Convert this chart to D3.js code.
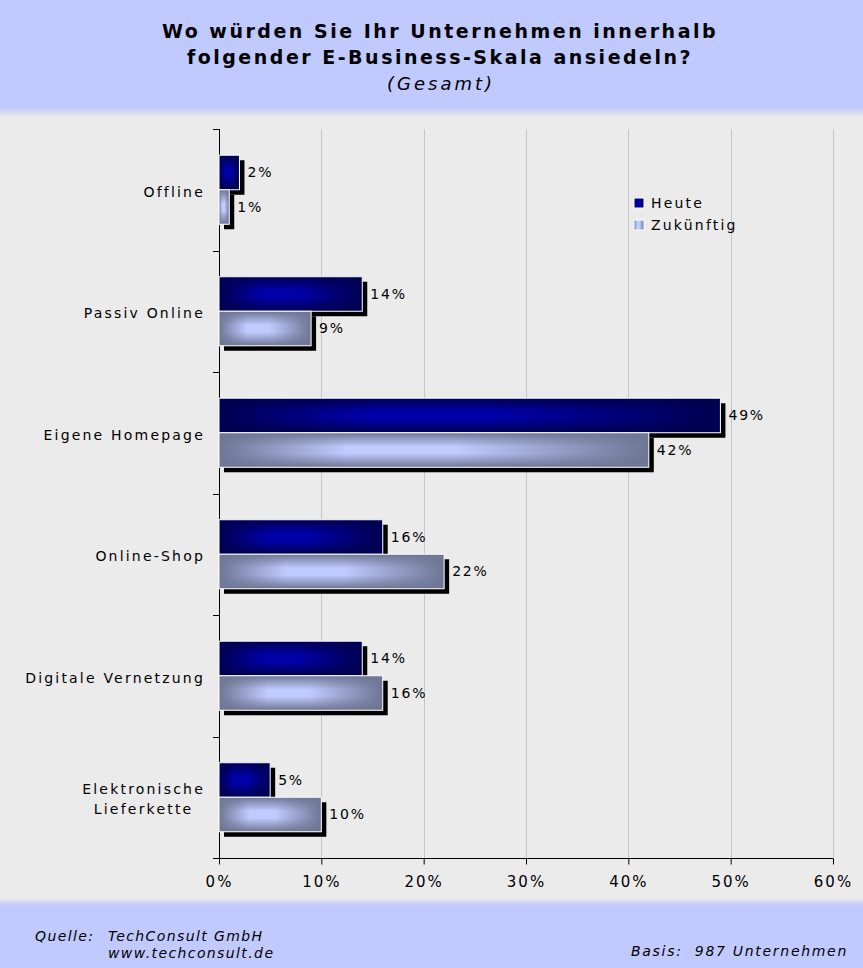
<!DOCTYPE html>
<html>
<head>
<meta charset="utf-8">
<script src="https://cdn.jsdelivr.net/npm/d3@7"></script>
<style>
  body { margin: 0; background: #ebebeb; }
  svg { display: block; font-family: "DejaVu Sans", sans-serif; }
  text { white-space: pre; }
</style>
</head>
<body>
<svg width="863" height="968"></svg>
<script>
const svg = d3.select("svg");

// DATA
const categories = ["Offline", "Passiv Online", "Eigene Homepage", "Online-Shop", "Digitale Vernetzung", "Elektronische\nLieferkette"];
const series = ["Heute", "Zukünftig"];
const heute = [2, 14, 49, 16, 14, 5];
const zukuenftig = [1, 9, 42, 22, 16, 10];
const xTicks = [0, 10, 20, 30, 40, 50, 60];
const titleLines = ["Wo würden Sie Ihr Unternehmen innerhalb", "folgender E-Business-Skala ansiedeln?"];
const subtitle = "(Gesamt)";

const data = categories.map((c, i) => ({ cat: c, values: [heute[i], zukuenftig[i]] }));

// CONSTANTS
const width = 863, height = 968;
const plot = { left: 219, right: 833, top: 129, bottom: 858 };
const shadow = 5;
const fontSize = 14;
const spacing = "2.2px";

// gradients
const defs = svg.append("defs");
const bg = defs.append("linearGradient").attr("id", "hdr").attr("x1", 0).attr("y1", 0).attr("x2", 0).attr("y2", 1);
bg.append("stop").attr("offset", "0.92").attr("stop-color", "#c0caff");
bg.append("stop").attr("offset", "1").attr("stop-color", "#ebebeb");
const fg = defs.append("linearGradient").attr("id", "ftr").attr("x1", 0).attr("y1", 0).attr("x2", 0).attr("y2", 1);
fg.append("stop").attr("offset", "0").attr("stop-color", "#ebebeb");
fg.append("stop").attr("offset", "0.11").attr("stop-color", "#c0caff");

const barColors = [
  { edge: "#000050", mid: "#0000a8" },
  { edge: "#6e7694", mid: "#c0cbff" }
];
barColors.forEach((c, i) => {
  // horizontal base
  const h = defs.append("linearGradient").attr("id", "barh" + i).attr("x1", 0).attr("x2", 1).attr("y1", 0).attr("y2", 0);
  [[0, c.edge], [0.3, c.mid], [0.55, c.mid], [1, c.edge]].forEach(([o, col]) =>
    h.append("stop").attr("offset", o).attr("stop-color", col));
  // vertical darkening overlay
  const v = defs.append("linearGradient").attr("id", "barv" + i).attr("x1", 0).attr("x2", 0).attr("y1", 0).attr("y2", 1);
  [[0, 1], [0.4, 0], [0.6, 0], [1, 1]].forEach(([o, op]) =>
    v.append("stop").attr("offset", o).attr("stop-color", c.edge).attr("stop-opacity", op));
});

// background bands
svg.append("rect").attr("width", width).attr("height", height).attr("fill", "#ebebeb");
svg.append("rect").attr("width", width).attr("height", 117).attr("fill", "url(#hdr)");
svg.append("rect").attr("y", 898).attr("width", width).attr("height", 70).attr("fill", "url(#ftr)");

// title
titleLines.forEach((t, i) => {
  svg.append("text").attr("x", 440).attr("y", 38 + i * 26).attr("text-anchor", "middle")
    .attr("font-size", 19).attr("font-weight", "bold").attr("letter-spacing", "2.5px").text(t);
});
svg.append("text").attr("x", 441).attr("y", 90).attr("text-anchor", "middle")
  .attr("font-size", 18).attr("font-style", "italic").attr("letter-spacing", "3px").text(subtitle);

//SCALES
const xScale = d3.scaleLinear().domain([0, 60]).range([plot.left, plot.right]);
const yScale = d3.scaleBand().domain(categories).range([plot.top, plot.bottom]);
const subScale = d3.scaleBand().domain(series).range([0, yScale.bandwidth()])
  .paddingInner(0).paddingOuter(0.76);

// grid
svg.append("g").selectAll("line").data(xTicks.slice(1)).join("line")
  .attr("x1", d => Math.round(xScale(d)) + 0.5).attr("x2", d => Math.round(xScale(d)) + 0.5)
  .attr("y1", plot.top).attr("y2", plot.bottom)
  .attr("stroke", "#c6c6c6").attr("stroke-width", 1);

// x axis
const xAxis = svg.append("g").attr("transform", `translate(0, ${plot.bottom + 0.5})`)
  .call(d3.axisBottom(xScale).tickValues(xTicks).tickFormat(d => d + "%").tickSize(6).tickSizeOuter(0).tickPadding(12));
xAxis.select(".domain").attr("stroke", "#000").attr("d", `M${plot.left - 6},0H${plot.right}`);
xAxis.selectAll("text").attr("font-size", 15).attr("font-family", "DejaVu Sans").attr("letter-spacing", "2px").attr("fill", "#000");

// y axis line and ticks at band boundaries
const yg = svg.append("g");
yg.append("line").attr("x1", plot.left + 0.5).attr("x2", plot.left + 0.5)
  .attr("y1", plot.top).attr("y2", plot.bottom + 6).attr("stroke", "#000");
yg.selectAll("line.tick").data(categories).join("line").attr("class", "tick")
  .attr("x1", plot.left - 6).attr("x2", plot.left)
  .attr("y1", d => Math.round(yScale(d)) + 0.5).attr("y2", d => Math.round(yScale(d)) + 0.5)
  .attr("stroke", "#000");

// category labels
const labels = svg.append("g").selectAll("text").data(categories).join("text")
  .attr("font-size", fontSize).attr("letter-spacing", spacing).attr("fill", "#000");
labels.each(function (d) {
  const lines = d.split("\n");
  const t = d3.select(this);
  const cy = yScale(d) + yScale.bandwidth() / 2 + 2;
  lines.forEach((l, i) => {
    t.append("tspan").attr("y", cy + (i - (lines.length - 1) / 2) * 20).attr("dy", "0.35em").text(l);
  });
  if (lines.length === 1) {
    t.attr("text-anchor", "end").selectAll("tspan").attr("x", 205);
  } else {
    const w = d3.max(t.selectAll("tspan").nodes(), n => n.getComputedTextLength());
    t.attr("text-anchor", "middle").selectAll("tspan").attr("x", 205 - w / 2);
  }
});

// bars
const groups = svg.append("g").selectAll("g").data(data).join("g")
  .attr("transform", d => `translate(0, ${yScale(d.cat)})`);

series.forEach((s, si) => {
  const bar = groups.append("g");
  const by = subScale(s);
  const bh = subScale.bandwidth();
  const w = d => xScale(d.values[si]) - xScale(0);
  bar.append("rect")
    .attr("x", xScale(0) + shadow).attr("y", by + shadow)
    .attr("width", w).attr("height", bh).attr("fill", "#000");
  bar.append("rect")
    .attr("x", xScale(0)).attr("y", by)
    .attr("width", w).attr("height", bh).attr("fill", `url(#barh${si})`);
  bar.append("rect")
    .attr("x", xScale(0)).attr("y", by)
    .attr("width", w).attr("height", bh).attr("fill", `url(#barv${si})`)
    .attr("stroke", "#fff").attr("stroke-width", 1);
  bar.append("text")
    .attr("x", d => xScale(d.values[si]) + shadow + 3)
    .attr("y", by + bh / 2).attr("dy", "0.35em")
    .attr("font-size", fontSize).attr("letter-spacing", "1.8px").attr("fill", "#000")
    .text(d => d.values[si] + "%");
});

// legend
const legend = svg.append("g").attr("transform", "translate(634, 198)");
series.forEach((s, i) => {
  const row = legend.append("g").attr("transform", `translate(0, ${i * 22})`);
  row.append("rect").attr("width", 10).attr("height", 10).attr("fill", `url(#barh${i})`)
    .attr("stroke", "#fff").attr("stroke-width", 1);
  row.append("text").attr("x", 17).attr("y", 10)
    .attr("font-size", fontSize).attr("letter-spacing", "2.2px").text(s);
});

// footer
const foot = svg.append("g").attr("font-size", 14).attr("font-style", "italic").attr("letter-spacing", "1.4px");
foot.append("text").attr("x", 35).attr("y", 941).text("Quelle:");
foot.append("text").attr("x", 108).attr("y", 941).text("TechConsult GmbH");
foot.append("text").attr("x", 108).attr("y", 958).text("www.techconsult.de");
foot.append("text").attr("x", 848).attr("y", 956).attr("text-anchor", "end")
  .attr("letter-spacing", "1.7px").text("Basis:  987 Unternehmen");
</script>
</body>
</html>
